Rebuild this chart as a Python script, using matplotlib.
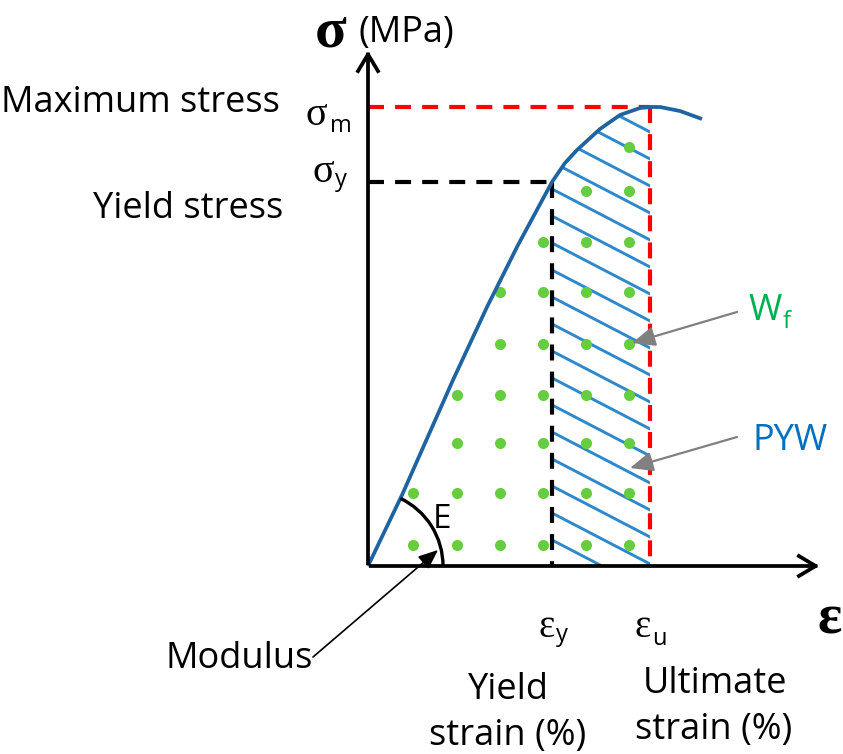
import numpy as np
import matplotlib
matplotlib.use("Agg")
import matplotlib.pyplot as plt
from matplotlib.patches import Arc, Polygon, FancyArrowPatch

###########################################
## données lues sur le schéma (unités arbitraires)
###########################################
# courbe contrainte-déformation
curve_strain = [0, 0.34, 0.85, 1.19, 1.50, 1.84, 1.97, 2.09, 2.32, 2.52, 2.72, 2.82, 2.92, 3.12, 3.34]
curve_stress = [0, 0.71, 1.86, 2.59, 3.21, 3.84, 4.03, 4.16, 4.37, 4.51, 4.58, 4.59, 4.59, 4.55, 4.47]

eps_y = 1.84   # déformation à la limite élastique
eps_u = 2.82   # déformation ultime
sig_y = 3.84   # limite élastique
sig_m = 4.59   # contrainte maximale

# points verts (W_f)
dot_strain = [0.45, 0.89, 1.32, 1.75, 2.18, 2.61,
              0.45, 0.89, 1.32, 1.75, 2.18, 2.61,
              0.89, 1.32, 1.75, 2.18, 2.61,
              0.89, 1.32, 1.75, 2.18, 2.61,
              1.32, 1.75, 2.18, 2.61,
              1.32, 1.75, 2.18, 2.61,
              1.75, 2.18, 2.61,
              2.18, 2.61,
              2.61]
dot_stress = [0.21] * 6 + [0.73] * 6 + [1.23] * 5 + [1.71] * 5 + [2.22] * 4 + [2.74] * 4 + [3.24] * 3 + [3.75] * 2 + [4.19]

hatch_slope = -0.52
hatch_start = [0.26 + 0.27 * k for k in range(19)]

# couleurs
c_curve = '#1F63A0'
c_hatch = '#2E88CC'
c_dot = '#66CC40'
c_gray = '#808080'

sans = 'Open Sans'
serif = 'Liberation Serif'

plt.rcParams['lines.scale_dashes'] = False
dash = (0, (11.5, 8))

###########################################
## figure
###########################################
fig = plt.figure(figsize=(8.43, 7.54), dpi=100)
ax = fig.add_axes([0, 0, 1, 1])
ax.set_xlim(-3.68, 4.75)
ax.set_ylim(-1.88, 5.66)
ax.axis('off')

# axes fléchés
for tip in [(0, 5.18), (4.54, 0)]:
    ax.add_patch(FancyArrowPatch((0, 0), tip, arrowstyle='->,head_length=0.4,head_width=0.24',
                                 mutation_scale=30, lw=2.7, color='black', zorder=6,
                                 capstyle='projecting'))

# hachures PYW
region = [(eps_y + 0.02, 0)]
for e, s in zip(curve_strain, curve_stress):
    if eps_y <= e <= eps_u:
        region.append((e + (0.02 if e == eps_y else 0), s))
region.append((eps_u, 0))
clip = Polygon(region, closed=True, facecolor='none', edgecolor='none')
ax.add_patch(clip)
xs = np.array([eps_y, eps_u + 0.1])
for c in hatch_start:
    ln, = ax.plot(xs, c + hatch_slope * (xs - eps_y), color=c_hatch, lw=2.1, zorder=2)
    ln.set_clip_path(clip)

# points verts
ax.plot(dot_strain, dot_stress, 'o', color=c_dot, ms=8, mec='none', zorder=3)

# pointillés
ax.plot([0, eps_u], [sig_m, sig_m], color='#FF0000', lw=3, ls=dash, zorder=4)
ax.plot([eps_u, eps_u], [sig_m, 0], color='#FF0000', lw=3, ls=dash, zorder=4)
ax.plot([0, eps_y], [sig_y, sig_y], color='black', lw=3, ls=dash, zorder=4)
ax.plot([eps_y, eps_y], [sig_y, 0], color='black', lw=3, ls=dash, zorder=4)

# courbe
ax.plot(curve_strain, curve_stress, color=c_curve, lw=2.7, zorder=5, solid_capstyle='butt')

# arc du module
ax.add_patch(Arc((0, 0), 1.5, 1.5, theta1=0, theta2=64.4, lw=2.4, color='black', zorder=5))

###########################################
## textes
###########################################
ax.text(-0.37, 5.19, 'σ', family=serif, weight='bold', fontsize=42, ha='center', va='baseline')
ax.text(-0.10, 5.24, '(MPa)', family=sans, fontsize=26, ha='left', va='baseline')

ax.text(-0.88, 4.54, 'Maximum stress', family=sans, fontsize=26, ha='right', va='baseline')
ax.text(-0.85, 3.48, 'Yield stress', family=sans, fontsize=26, ha='right', va='baseline')

ax.text(-0.63, 4.41, 'σ', family=serif, fontsize=29, ha='left', va='baseline')
ax.text(-0.38, 4.34, 'm', family=sans, fontsize=17, ha='left', va='baseline')
ax.text(-0.56, 3.84, 'σ', family=serif, fontsize=29, ha='left', va='baseline')
ax.text(-0.33, 3.80, 'y', family=sans, fontsize=17, ha='left', va='baseline')

ax.text(1.70, -0.71, 'ε', family=serif, fontsize=28, ha='left', va='baseline')
ax.text(1.88, -0.75, 'y', family=sans, fontsize=17, ha='left', va='baseline')
ax.text(2.67, -0.71, 'ε', family=serif, fontsize=28, ha='left', va='baseline')
ax.text(2.84, -0.79, 'u', family=sans, fontsize=17, ha='left', va='baseline')
ax.text(4.62, -0.67, 'ε', family=serif, weight='bold', fontsize=41, ha='center', va='baseline')

ax.text(1.40, -1.33, 'Yield', family=sans, fontsize=26, ha='center', va='baseline')
ax.text(1.40, -1.79, 'strain (%)', family=sans, fontsize=26, ha='center', va='baseline')
ax.text(3.47, -1.27, 'Ultimate', family=sans, fontsize=26, ha='center', va='baseline')
ax.text(3.46, -1.73, 'strain (%)', family=sans, fontsize=26, ha='center', va='baseline')

ax.text(-2.03, -1.02, 'Modulus', family=sans, fontsize=26, ha='left', va='baseline')
ax.text(0.74, 0.38, 'E', family=sans, fontsize=24, ha='center', va='baseline')

ax.text(3.80, 2.46, 'W', family=sans, fontsize=26, color='#00B050', ha='left', va='baseline')
ax.text(4.15, 2.38, 'f', family=sans, fontsize=17, color='#00B050', ha='left', va='baseline')
ax.text(3.85, 1.16, 'PYW', family=sans, fontsize=26, color='#0070C0', ha='left', va='baseline')

# flèches
ax.annotate('', xy=(0.70, 0.16), xytext=(-0.55, -0.91),
            arrowprops=dict(arrowstyle='-|>,head_length=0.6,head_width=0.25', color='black', lw=1.2,
                            mutation_scale=20, shrinkA=0, shrinkB=0), zorder=6)
ax.annotate('', xy=(2.64, 2.23), xytext=(3.69, 2.54),
            arrowprops=dict(arrowstyle='-|>,head_length=0.7,head_width=0.3', color=c_gray, lw=1.6,
                            mutation_scale=20, shrinkA=0, shrinkB=0), zorder=6)
ax.annotate('', xy=(2.62, 0.98), xytext=(3.69, 1.29),
            arrowprops=dict(arrowstyle='-|>,head_length=0.7,head_width=0.3', color=c_gray, lw=1.6,
                            mutation_scale=20, shrinkA=0, shrinkB=0), zorder=6)

fig.savefig('out.png', dpi=100)
